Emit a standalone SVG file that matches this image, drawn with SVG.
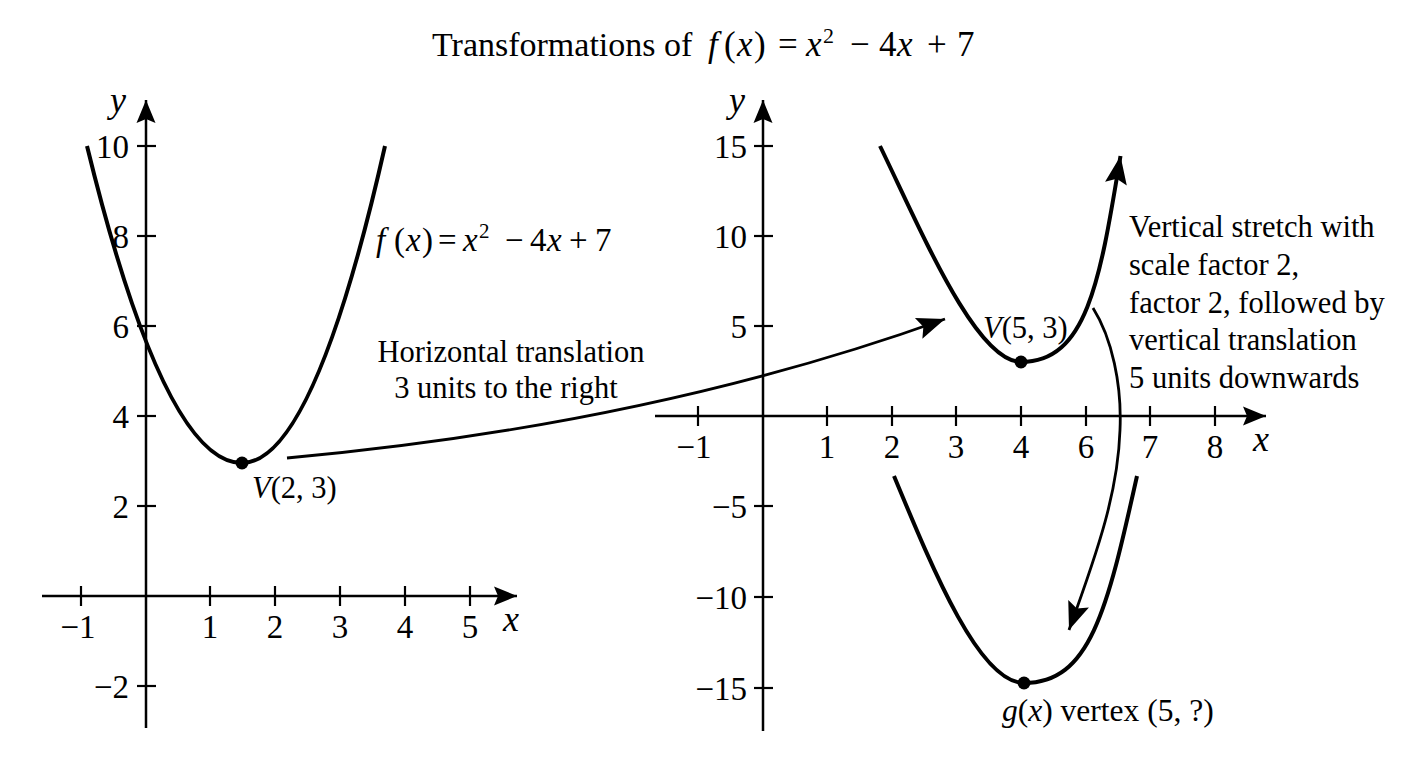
<svg xmlns="http://www.w3.org/2000/svg" width="1408" height="768" viewBox="0 0 1408 768">
<style>
text{font-family:"Liberation Serif","Times New Roman",serif;fill:#000}
.t{font-size:30.5px}
.tk{font-size:33px}
.al{font-size:36px;font-style:italic}
.mid{text-anchor:middle}
.end{text-anchor:end}
.it{font-style:italic}
.ax{stroke:#000;stroke-width:2.5;fill:none}
.tick{stroke:#000;stroke-width:2.2}
.crv{stroke:#000;stroke-width:4;fill:none;stroke-linecap:butt}
.con{stroke:#000;stroke-width:2.8;fill:none}
.dot{fill:#000}
</style>
<defs>
<marker id="ah" viewBox="-24 -11 26 22" refX="0" refY="0" markerWidth="26" markerHeight="22" markerUnits="userSpaceOnUse" orient="auto">
<path d="M0,0 L-23,-9.5 L-19,0 L-23,9.5 Z" fill="#000"/>
</marker>
<marker id="ah2" viewBox="-30 -13 32 26" refX="0" refY="0" markerWidth="32" markerHeight="26" markerUnits="userSpaceOnUse" orient="auto">
<path d="M0,0 L-28,-11 L-23,0 L-28,11 Z" fill="#000"/>
</marker>
</defs>
<rect width="1408" height="768" fill="#fff"/>

<g id="title">
<text y="56" style="font-size:35px"><tspan x="432" style="font-size:34px">Transformations of</tspan><tspan x="708" class="it">f</tspan><tspan x="724">(</tspan><tspan x="737" class="it">x</tspan><tspan x="754">)</tspan><tspan x="778">=</tspan><tspan x="806" class="it">x</tspan><tspan x="823" dy="-13" style="font-size:22px">2</tspan><tspan x="850" dy="13">−</tspan><tspan x="879">4</tspan><tspan x="897" class="it">x</tspan><tspan x="927">+</tspan><tspan x="957">7</tspan></text>
</g>

<g id="left-axes">
<line class="ax" x1="42" y1="596" x2="517" y2="596" marker-end="url(#ah)"/>
<line class="ax" x1="146" y1="728" x2="146" y2="100" marker-end="url(#ah)"/>
<g class="tick">
<line x1="81" y1="586" x2="81" y2="606"/>
<line x1="210" y1="586" x2="210" y2="606"/>
<line x1="275" y1="586" x2="275" y2="606"/>
<line x1="340" y1="586" x2="340" y2="606"/>
<line x1="405" y1="586" x2="405" y2="606"/>
<line x1="470" y1="586" x2="470" y2="606"/>
<line x1="137" y1="146" x2="156" y2="146"/>
<line x1="137" y1="236" x2="156" y2="236"/>
<line x1="137" y1="326" x2="156" y2="326"/>
<line x1="137" y1="416" x2="156" y2="416"/>
<line x1="137" y1="506" x2="156" y2="506"/>
<line x1="137" y1="686" x2="156" y2="686"/>
</g>
<g class="tk mid">
<text x="78" y="638">−1</text>
<text x="210" y="638">1</text>
<text x="275" y="638">2</text>
<text x="340" y="638">3</text>
<text x="405" y="638">4</text>
<text x="470" y="638">5</text>
</g>
<g class="tk end">
<text x="129" y="158">10</text>
<text x="129" y="248">8</text>
<text x="129" y="338">6</text>
<text x="129" y="428">4</text>
<text x="129" y="518">2</text>
<text x="129" y="698">−2</text>
</g>
<text class="al" x="503" y="631">x</text>
<text class="al" x="110" y="112">y</text>
</g>

<g id="curve-f">
<path class="crv" d="M87 146 Q164.5 463 242 463 Q313.5 463 385 146"/>
<circle class="dot" cx="242" cy="463" r="6.5"/>
<text class="t" x="252" y="498"><tspan class="it">V</tspan>(2, 3)</text>
<text y="251" style="font-size:33px"><tspan x="376" class="it">f</tspan><tspan x="394">(</tspan><tspan x="406" class="it">x</tspan><tspan x="422">)</tspan><tspan x="438">=</tspan><tspan x="463" class="it">x</tspan><tspan x="479" dy="-13" style="font-size:21px">2</tspan><tspan x="505" dy="13">−</tspan><tspan x="530">4</tspan><tspan x="547" class="it">x</tspan><tspan x="569">+</tspan><tspan x="595">7</tspan></text>
</g>

<g id="right-axes">
<line class="ax" x1="655" y1="416" x2="1266" y2="416" marker-end="url(#ah)"/>
<line class="ax" x1="763" y1="731" x2="763" y2="100" marker-end="url(#ah)"/>
<g class="tick">
<line x1="698" y1="406" x2="698" y2="426"/>
<line x1="827" y1="406" x2="827" y2="426"/>
<line x1="892" y1="406" x2="892" y2="426"/>
<line x1="956" y1="406" x2="956" y2="426"/>
<line x1="1021" y1="406" x2="1021" y2="426"/>
<line x1="1086" y1="406" x2="1086" y2="426"/>
<line x1="1150" y1="406" x2="1150" y2="426"/>
<line x1="1215" y1="406" x2="1215" y2="426"/>
<line x1="754" y1="146" x2="773" y2="146"/>
<line x1="754" y1="236" x2="773" y2="236"/>
<line x1="754" y1="326" x2="773" y2="326"/>
<line x1="754" y1="506" x2="773" y2="506"/>
<line x1="754" y1="597" x2="773" y2="597"/>
<line x1="754" y1="688" x2="773" y2="688"/>
</g>
<g class="tk mid">
<text x="694" y="458">−1</text>
<text x="827" y="458">1</text>
<text x="892" y="458">2</text>
<text x="956" y="458">3</text>
<text x="1021" y="458">4</text>
<text x="1086" y="458">6</text>
<text x="1150" y="458">7</text>
<text x="1215" y="458">8</text>
</g>
<g class="tk end">
<text x="747" y="158">15</text>
<text x="747" y="248">10</text>
<text x="747" y="338">5</text>
<text x="747" y="518">−5</text>
<text x="747" y="609">−10</text>
<text x="747" y="700">−15</text>
</g>
<text class="al" x="1253" y="451">x</text>
<text class="al" x="729" y="112">y</text>
</g>

<g id="curve-shifted">
<path class="crv" d="M880 146 C921.5 231.5 976 362 1021 362"/>
<path class="crv" d="M1021 362 C1087.5 362 1100.2 278.7 1120.5 156" marker-end="url(#ah2)"/>
<circle class="dot" cx="1021" cy="362" r="6.5"/>
<text class="t" x="983" y="338"><tspan class="it">V</tspan>(5, 3)</text>
</g>

<g id="curve-g">
<path class="crv" d="M894 476 C934.8 574.4 980 683 1024 683 C1090 683 1107 611 1137 476"/>
<circle class="dot" cx="1024" cy="683" r="6.5"/>
<text x="1002" y="721" style="font-size:31.5px"><tspan class="it">g</tspan>(<tspan class="it">x</tspan>) vertex (5, ?)</text>
</g>

<g id="note-vertical">
<text class="t" x="1129" y="237">Vertical stretch with</text>
<text class="t" x="1129" y="275">scale factor 2,</text>
<text class="t" x="1129" y="313">factor 2, followed by</text>
<text class="t" x="1129" y="350">vertical translation</text>
<text class="t" x="1129" y="388">5 units downwards</text>
</g>

<g id="note-horizontal">
<text class="t mid" x="511" y="362">Horizontal translation</text>
<text class="t mid" x="506" y="398">3 units to the right</text>
</g>

<g id="connectors">
<path class="con" d="M287 458 Q650 425 945 319" marker-end="url(#ah2)"/>
<path class="con" d="M1093 308 C1112 338 1122 385 1120 430 C1118 490 1100 545 1069 630" marker-end="url(#ah2)"/>
</g>
</svg>
